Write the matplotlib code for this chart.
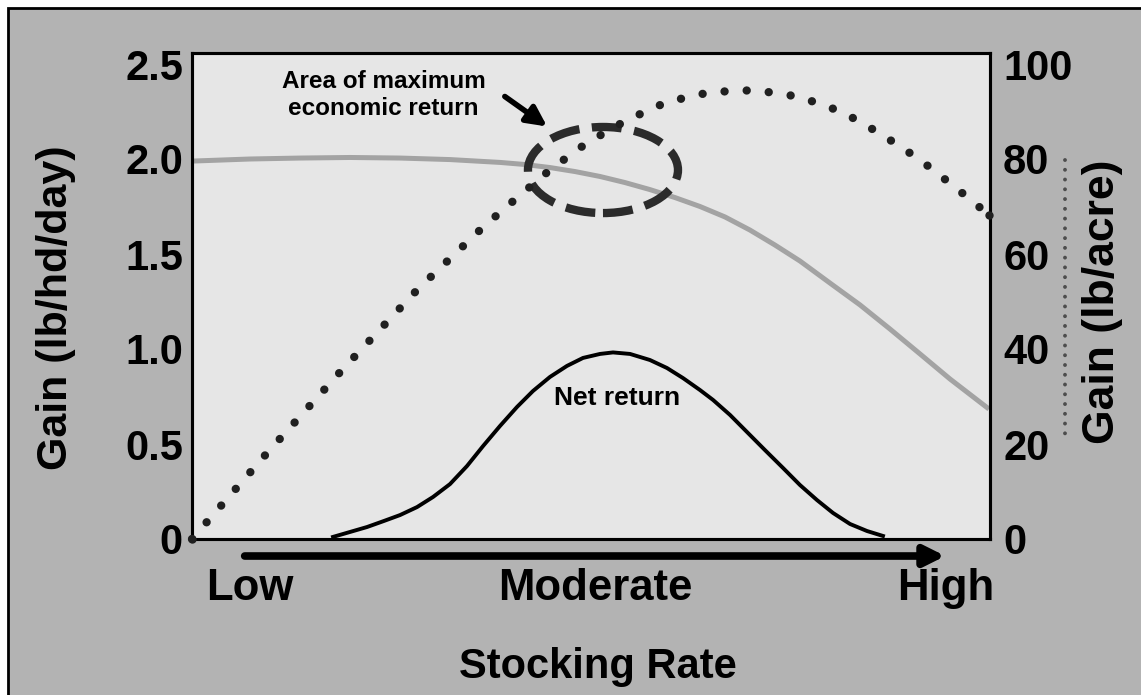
import matplotlib
matplotlib.use('Agg')
import matplotlib.pyplot as plt
from matplotlib.patches import Ellipse, Rectangle
from matplotlib.lines import Line2D

plt.rcParams['font.family'] = ['Liberation Sans', 'DejaVu Sans']
plt.rcParams['font.weight'] = 'bold'
plt.rcParams['axes.labelweight'] = 'bold'

# ---------------- data (x: stocking rate, 0 = low ... 100 = high) ----------------
stock_gray = [0, 7.27, 13.53, 19.80, 26.07, 32.33, 38.60, 41.73, 44.86, 47.99, 51.13, 54.26,
              57.39, 60.53, 63.66, 66.79, 69.92, 73.06, 76.19, 79.95, 83.71, 87.47, 91.23, 94.99, 99.87]
gain_hd = [1.989, 2.0, 2.005, 2.008, 2.005, 1.997, 1.982, 1.971, 1.955, 1.934, 1.908, 1.876,
           1.839, 1.797, 1.750, 1.695, 1.626, 1.547, 1.463, 1.347, 1.232, 1.105, 0.974, 0.842, 0.684]

stock_dot = [0, 9.3, 18.7, 28.3, 36.5, 40.7, 45.0, 49.5, 54.5, 59.5, 65.0, 70.6, 76.1, 81.5, 86.3, 91.1, 95.6, 99.9]
gain_acre = [0, 17.9, 35.4, 52.6, 65.7, 71.8, 77.9, 83.4, 88.2, 92.0, 94.1, 94.5, 93.1, 89.9, 85.3, 80.0, 74.1, 68.2]

stock_net = [17.67, 19.80, 21.93, 24.06, 26.07, 28.20, 30.20, 32.33, 34.46, 36.47, 38.60, 40.73,
             42.73, 44.86, 46.99, 49.00, 51.13, 52.76, 54.89, 57.39, 59.52, 61.53, 63.66, 65.29,
             67.42, 69.55, 71.80, 74.06, 76.19, 78.32, 80.33, 82.46, 84.59, 86.59]
net_return = [0.011, 0.037, 0.063, 0.095, 0.126, 0.168, 0.221, 0.289, 0.384, 0.489, 0.595, 0.695,
              0.779, 0.853, 0.911, 0.953, 0.974, 0.982, 0.974, 0.942, 0.900, 0.847, 0.784, 0.732,
              0.653, 0.563, 0.468, 0.374, 0.284, 0.205, 0.137, 0.079, 0.042, 0.016]

rate_ticks = [7.2, 50.6, 94.4]
rate_labels = ['Low', 'Moderate', 'High']
left_ticks = [0, 0.5, 1.0, 1.5, 2.0, 2.5]
left_labels = ['0', '0.5', '1.0', '1.5', '2.0', '2.5']
right_ticks = [0, 20, 40, 60, 80, 100]
right_labels = ['0', '20', '40', '60', '80', '100']

W, H = 1141, 695
fig = plt.figure(figsize=(W / 100, H / 100), dpi=100, facecolor='white')
fig.add_artist(Rectangle((8 / W, -0.1), 1.2, 1.1 - 8 / H, transform=fig.transFigure,
                         facecolor='#b3b3b3', edgecolor='black', lw=2, zorder=-10))

ax = fig.add_axes([192 / W, 1 - 539 / H, 798 / W, 486 / H])
ax.set_facecolor('#e6e6e6')
ax.set_xlim(0, 100)
ax.set_ylim(0, 486 / 190)
ax2 = ax.twinx()
ax2.set_ylim(0, 486 / 4.75)

for a in (ax, ax2):
    for s in a.spines.values():
        s.set_linewidth(2.2)
        s.set_color('black')

# gain per head (gray line)
ax.plot(stock_gray, gain_hd, color='#a3a3a3', lw=3.6, solid_capstyle='butt',
        solid_joinstyle='round', zorder=2)
# area of max economic return
ax.add_patch(Ellipse((51.5, 1.942), 18.8, 0.453, fill=False, ec='#2b2b2b', lw=6,
                     ls=(0, (3.6, 1.5)), zorder=3))
# net return
ax.plot(stock_net, net_return, color='black', lw=2.8, solid_joinstyle='round', zorder=4)
# gain per acre (dotted)
ax2.plot(stock_dot, gain_acre, color='#202020', lw=6, ls=(0, (0.01, 2.65)),
         dash_capstyle='round', clip_on=False, zorder=5,
         marker='o', markevery=[0, len(stock_dot) - 1], ms=6, mec='none', mfc='#202020')

ax.text(24.0, 2.337, 'Area of maximum\neconomic return', ha='center', va='center',
        fontsize=17.5, linespacing=1.2)
ax.annotate('', xy=(44.5, 2.171), xytext=(39.2, 2.329),
            arrowprops=dict(arrowstyle='-|>,head_length=0.6,head_width=0.3', lw=4,
                            color='black', shrinkA=0, shrinkB=0, mutation_scale=20))
ax.text(53.3, 0.742, 'Net return', ha='center', va='center', fontsize=19)

# ticks
ax.set_yticks(left_ticks, left_labels)
ax.tick_params(axis='y', length=0, pad=6.5, labelsize=30)
ax2.set_yticks(right_ticks, right_labels)
ax2.tick_params(axis='y', length=0, pad=9.4, labelsize=30)
ax.set_xticks(rate_ticks, rate_labels)
ax.tick_params(axis='x', length=0, pad=21, labelsize=31.5)

# stocking rate arrow
ax.annotate('', xy=(0.944, -0.035), xytext=(0.066, -0.035), xycoords='axes fraction',
            textcoords='axes fraction', annotation_clip=False,
            arrowprops=dict(arrowstyle='-|>,head_length=0.6,head_width=0.3', lw=5.5,
                            color='black', shrinkA=0, shrinkB=0, mutation_scale=20))

# axis labels
ax.set_ylabel('Gain (lb/hd/day)', fontsize=31, va='center')
ax.yaxis.set_label_coords(-0.1704, 0.476)
ax2.set_ylabel('Gain (lb/acre)', fontsize=32, va='center')
ax2.yaxis.set_label_coords(1.1416, 0.4887)
ax.set_xlabel('Stocking Rate', fontsize=30, va='center')
ax.xaxis.set_label_coords(0.509, -0.264)

# dotted key next to right label
fig.add_artist(Line2D([1065 / W] * 2, [1 - 160 / H, 1 - 442 / H], transform=fig.transFigure,
                      color='#4d4d4d', lw=2.8, ls=(0, (0.01, 2.5)), dash_capstyle='round'))

fig.savefig('out.png', dpi=100)
